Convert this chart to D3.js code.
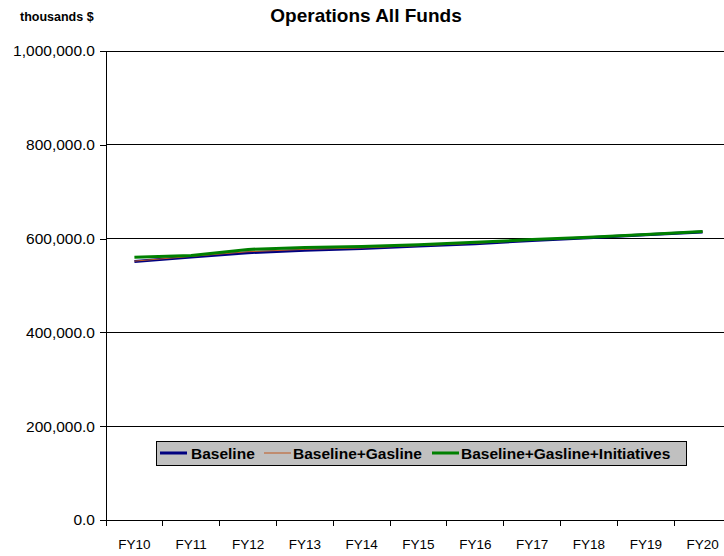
<!DOCTYPE html>
<html lang="en">
<head>
<meta charset="UTF-8">
<title>Operations All Funds</title>
<script src="https://d3js.org/d3.v7.min.js"></script>
<style>
  body { margin: 0; background: #fff; }
  text { font-family: Arial, "Liberation Sans", sans-serif; }
</style>
</head>
<body>
<div id="chart"></div>
<script>
// fiscal years on the x axis
var years = ["FY10", "FY11", "FY12", "FY13", "FY14", "FY15", "FY16", "FY17", "FY18", "FY19", "FY20"];

// thousands of dollars
var baseline    = [551000, 561000, 570000, 575000, 579000, 584000, 589000, 596000, 602000, 608000, 614000];
var gasline     = [552000, 562000, 572000, 577000, 580000, 585000, 590000, 597000, 603000, 609000, 615000];
var initiatives = [560000, 564000, 577000, 581000, 583000, 587000, 592000, 598000, 603000, 609000, 615000];

var yTicks = [0, 200000, 400000, 600000, 800000, 1000000];

var seriesNames = ["Baseline", "Baseline+Gasline", "Baseline+Gasline+Initiatives"];

var width = 724, height = 556;
var margin = {left: 106, top: 51, right: -7, bottom: 36};
var innerW = width - margin.left - margin.right;
var innerH = height - margin.top - margin.bottom;

var svg = d3.select("#chart").append("svg")
    .attr("width", width)
    .attr("height", height);

var g = svg.append("g")
    .attr("transform", "translate(" + margin.left + "," + margin.top + ")");

var x = d3.scaleBand().domain(years).range([0, innerW]);
var y = d3.scaleLinear().domain([0, 1000000]).range([innerH, 0]);

// gridlines
g.selectAll(".grid")
  .data(yTicks.slice(1))
  .enter().append("line")
    .attr("x1", 0).attr("x2", innerW)
    .attr("y1", d => y(d)).attr("y2", d => y(d))
    .attr("stroke", "#000")
    .attr("shape-rendering", "crispEdges");

// y axis
var fmt = d3.format(",.1f");
var yAxis = g.append("g")
  .call(d3.axisLeft(y).tickValues(yTicks).tickFormat(fmt).tickSize(6).tickPadding(5));
yAxis.select(".domain").attr("stroke", "#000").attr("shape-rendering", "crispEdges");
yAxis.selectAll("line").attr("shape-rendering", "crispEdges");
yAxis.selectAll("text").style("font-size", "15.5px").attr("fill", "#000");

// x axis: ticks between categories
var xAxis = g.append("g")
  .attr("transform", "translate(0," + innerH + ")")
  .call(d3.axisBottom(x).tickSize(0).tickPadding(19));
xAxis.select(".domain").attr("stroke", "#000").attr("shape-rendering", "crispEdges");
xAxis.selectAll("text").style("font-size", "13.5px").attr("fill", "#000");
xAxis.selectAll(".sep")
  .data(years)
  .enter().append("line")
    .attr("x1", d => x(d)).attr("x2", d => x(d))
    .attr("y1", 0).attr("y2", 6)
    .attr("stroke", "#000")
    .attr("shape-rendering", "crispEdges");

// lines
var line = d3.line()
  .x((d, i) => x(years[i]) + x.bandwidth() / 2)
  .y(d => y(d));

var series = [
  {name: seriesNames[0], values: baseline, color: "#000080", w: 3},
  {name: seriesNames[1], values: gasline, color: "#C0581F", w: 1},
  {name: seriesNames[2], values: initiatives, color: "#008000", w: 3}
];

g.selectAll(".series")
  .data(series)
  .enter().append("path")
    .attr("d", d => line(d.values))
    .attr("fill", "none")
    .attr("stroke", d => d.color)
    .attr("stroke-width", d => d.w);

// legend
var legend = svg.append("g").attr("transform", "translate(156,441)");
legend.append("rect")
  .attr("width", 530).attr("height", 24)
  .attr("fill", "#C0C0C0")
  .attr("stroke", "#000")
  .attr("shape-rendering", "crispEdges");

var lineX = [4, 108, 276];
var textX = [35, 137, 305];
series.forEach(function(s, i) {
  legend.append("line")
    .attr("x1", lineX[i]).attr("x2", lineX[i] + 27)
    .attr("y1", 12).attr("y2", 12)
    .attr("stroke", s.color)
    .attr("stroke-width", s.w);
  legend.append("text")
    .attr("x", textX[i]).attr("y", 18)
    .style("font-size", "15.5px")
    .style("font-weight", "bold")
    .text(s.name);
});

// titles
svg.append("text")
  .attr("x", 366).attr("y", 22)
  .attr("text-anchor", "middle")
  .style("font-size", "19px")
  .style("font-weight", "bold")
  .text("Operations All Funds");

svg.append("text")
  .attr("x", 20).attr("y", 21)
  .style("font-size", "12.5px")
  .style("font-weight", "bold")
  .text("thousands $");
</script>
</body>
</html>
